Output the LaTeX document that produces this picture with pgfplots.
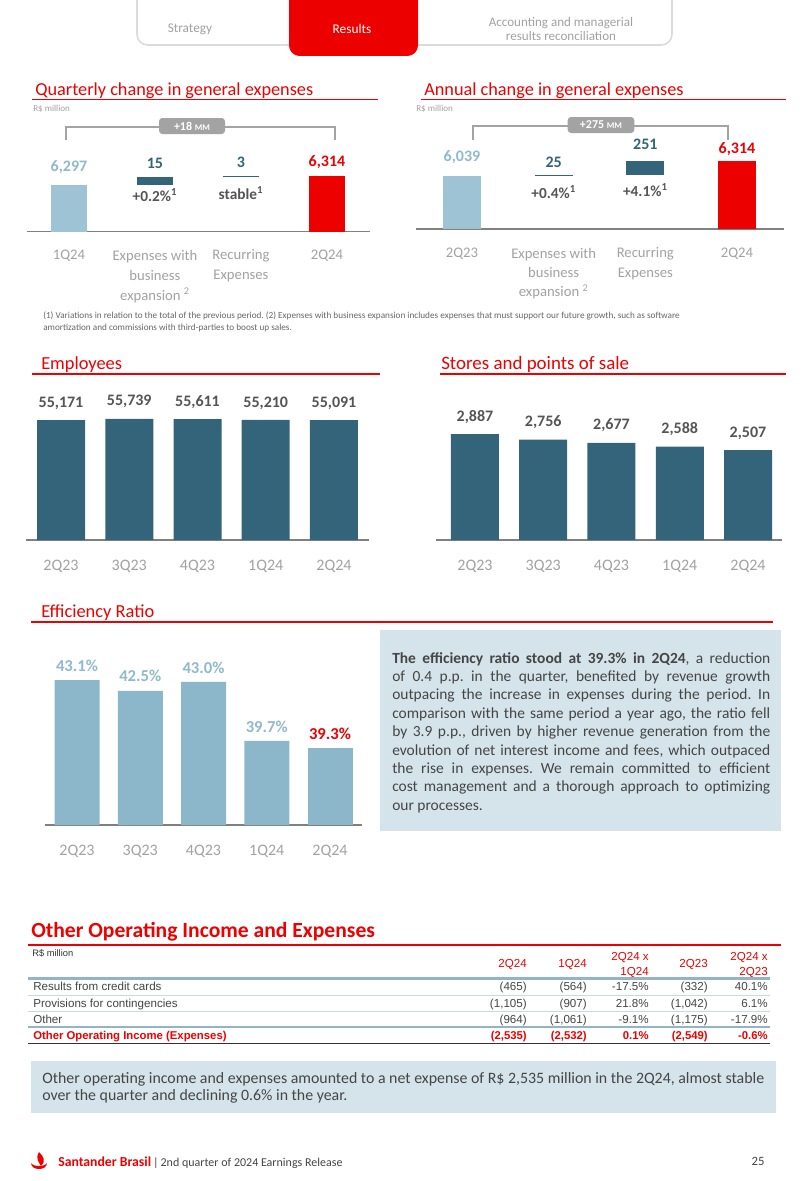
\documentclass[border=0pt]{standalone}
\usepackage{pgfplots}
\pgfplotsset{compat=1.18}
\usepackage{fontspec}
\setmainfont{Carlito}
\newfontfamily\arial{Liberation Sans}
\frenchspacing

\definecolor{sred}{HTML}{EC0000}
\definecolor{lightbar}{HTML}{9DC3D4}
\definecolor{lighttext}{HTML}{8FBACE}
\definecolor{effbar}{HTML}{8CB7CA}
\definecolor{darkbar}{HTML}{336479}
\definecolor{tickgray}{HTML}{A2A2A2}
\definecolor{valgray}{HTML}{555555}
\definecolor{axisgray}{HTML}{808080}
\definecolor{boxfill}{HTML}{D5E4EB}
\definecolor{pill}{HTML}{A3A3A3}
\definecolor{textgray}{HTML}{454545}
\definecolor{tabthick}{HTML}{8FB5C6}
\definecolor{tabthin}{HTML}{C9D9E1}

\pgfkeys{/pgf/number format/assume math mode=true}

\pgfplotsset{
  pagebars/.style={
    scale only axis, ybar, bar shift=0pt,
    axis x line=bottom, axis y line=none,
    axis line style={draw=axisgray, line width=0.8pt, -},
    xtick style={draw=none}, ytick=\empty,
    xticklabel style={font=\fontsize{12}{14}\selectfont, text=tickgray},
    anchor=south west, clip=false, enlargelimits=false,
  },
}

\tikzset{tab/.style={font=\arial\fontsize{8.7}{10}\selectfont, inner sep=0pt}}
\newcommand\trow[8]{%
  \node[tab, text=#2, anchor=base west] at (33,#1) {#3};
  \node[tab, text=#2, anchor=base east] at (527,#1) {#4};
  \node[tab, text=#2, anchor=base east] at (587,#1) {#5};
  \node[tab, text=#2, anchor=base east] at (649,#1) {#6};
  \node[tab, text=#2, anchor=base east] at (708,#1) {#7};
  \node[tab, text=#2, anchor=base east] at (768,#1) {#8};
}

\begin{document}
\begin{tikzpicture}
\begin{scope}[x=0.75pt,y=-0.75pt]
\path[use as bounding box, fill=white] (0,0) rectangle (802,1181);

% tabs
\draw[draw=black!14, line width=1.2pt, rounded corners=8pt] (137,-12) rectangle (672,45);
\fill[sred, rounded corners=8pt] (289,-12) rectangle (418,56);
\node[text=tickgray, font=\fontsize{10}{11}\selectfont] at (190,29) {Strategy};
\node[text=white, font=\fontsize{10}{11}\selectfont] at (352,29) {Results};
\node[text=tickgray, font=\fontsize{9.8}{10.2}\selectfont, align=center] at (561,29) {Accounting and managerial\\results reconciliation};

% section titles
\node[anchor=base west, inner sep=0, text=sred, font=\fontsize{13.7}{15}\selectfont] at (35,95) {Quarterly change in general expenses};
\draw[sred, line width=0.8pt] (32,99.5) -- (378,99.5);
\node[anchor=base west, inner sep=0, text=sred, font=\fontsize{13.7}{15}\selectfont] at (424,95) {Annual change in general expenses};
\draw[sred, line width=0.8pt] (421,99.5) -- (786,99.5);
\node[anchor=base west, inner sep=0, text=tickgray, font=\fontsize{6.8}{7}\selectfont] at (33,112) {R\$ million};
\node[anchor=base west, inner sep=0, text=tickgray, font=\fontsize{6.8}{7}\selectfont] at (416,112) {R\$ million};

% brackets
\draw[pill, line width=0.8pt] (66,140) -- (66,127) -- (335,127) -- (335,140);
\node[fill=pill, rounded corners=2.5pt, minimum width=49.5pt, minimum height=12pt, inner sep=0, text=white, font=\bfseries\fontsize{9}{10}\selectfont] at (192,126) {+18 {\fontsize{6.5}{7}\selectfont MM}};
\draw[pill, line width=0.8pt] (473,140) -- (473,126) -- (728,126) -- (728,140);
\node[fill=pill, rounded corners=2.5pt, minimum width=50pt, minimum height=12pt, inner sep=0, text=white, font=\bfseries\fontsize{9}{10}\selectfont] at (601,125) {+275 {\fontsize{6.5}{7}\selectfont MM}};

% footnote
\node[anchor=base west, inner sep=0, text=black!60, font=\fontsize{6.9}{8.3}\selectfont, align=left] at (43,330) {(1) Variations in relation to the total of the previous period. (2) Expenses with business expansion includes expenses that must support our future growth, such as software\\amortization and commissions with third-parties to boost up sales.};

% employees / stores / efficiency titles
\node[anchor=base west, inner sep=0, text=sred, font=\fontsize{13.8}{15}\selectfont] at (41,369) {Employees};
\draw[sred, line width=0.8pt] (32,374) -- (380,374);
\node[anchor=base west, inner sep=0, text=sred, font=\fontsize{14.2}{15}\selectfont] at (441,369) {Stores and points of sale};
\draw[sred, line width=0.8pt] (440,374) -- (786,374);
\node[anchor=base west, inner sep=0, text=sred, font=\fontsize{13.8}{15}\selectfont] at (41,617) {Efficiency Ratio};
\draw[sred, line width=0.8pt] (31,622) -- (773,622);

% efficiency text box
\fill[boxfill] (380,630) rectangle (781,831);
\node[anchor=north west, inner sep=0, text width=283.5pt, align=justify, text=textgray, font=\fontsize{11.6}{13.8}\selectfont] at (392,652) {\textbf{The efficiency ratio stood at 39.3\% in 2Q24}, a reduction\linebreak of 0.4 p.p. in the quarter, benefited by revenue growth\linebreak outpacing the increase in expenses during the period. In\linebreak comparison with the same period a year ago, the ratio fell\linebreak by 3.9 p.p., driven by higher revenue generation from the\linebreak evolution of net interest income and fees, which outpaced\linebreak the rise in expenses. We remain committed to efficient\linebreak cost management and a thorough approach to optimizing\linebreak our processes.};

% other operating income
\node[anchor=base west, inner sep=0, text=sred, font=\bfseries\fontsize{16.2}{17}\selectfont] at (31,937) {Other Operating Income and Expenses};
\draw[sred, line width=0.8pt] (28,945) -- (781,945);
\node[tab, anchor=base west, text=black!80, font=\arial\fontsize{7}{8}\selectfont] at (32,956) {R\$ million};
\node[tab, anchor=east, text=sred] at (527,965) {2Q24};
\node[tab, anchor=east, text=sred] at (587,965) {1Q24};
\node[tab, anchor=east, text=sred, align=right] at (649,965) {2Q24 x\\[1pt]1Q24};
\node[tab, anchor=east, text=sred] at (708,965) {2Q23};
\node[tab, anchor=east, text=sred, align=right] at (768,965) {2Q24 x\\[1pt]2Q23};
\draw[tabthick, line width=1.6pt] (28,978.5) -- (770,978.5);
\trow{990}{textgray}{Results from credit cards}{(465)}{(564)}{-17.5\%}{(332)}{40.1\%}
\draw[tabthin, line width=0.6pt] (28,995) -- (770,995);
\trow{1007}{textgray}{Provisions for contingencies}{(1,105)}{(907)}{21.8\%}{(1,042)}{6.1\%}
\draw[tabthin, line width=0.6pt] (28,1011) -- (770,1011);
\trow{1023}{textgray}{Other}{(964)}{(1,061)}{-9.1\%}{(1,175)}{-17.9\%}
\draw[tabthick, line width=1.6pt] (28,1027) -- (770,1027);
\begin{scope}[tab/.append style={font=\arial\bfseries\fontsize{8.5}{10}\selectfont}]
\trow{1039}{sred}{Other Operating Income (Expenses)}{(2,535)}{(2,532)}{0.1\%}{(2,549)}{-0.6\%}
\end{scope}
\draw[black!80, line width=0.7pt] (28,1043.5) -- (770,1043.5);

% second text box
\fill[boxfill] (31,1061) rectangle (776,1113);
\node[anchor=north west, inner sep=0, align=left, text=textgray, font=\fontsize{11.9}{12.75}\selectfont] at (42,1072) {Other operating income and expenses amounted to a net expense of R\$ 2,535 million in the 2Q24, almost stable\\over the quarter and declining 0.6\% in the year.};

% footer
\fill[sred] (39,1152) .. controls (44,1157) and (46,1161) .. (41,1166) .. controls (39,1162) and (35,1159) .. (39,1152) -- cycle;
\fill[sred] (31,1163) .. controls (31,1171) and (47,1171) .. (47,1163) .. controls (45,1167) and (33,1167) .. (31,1163) -- cycle;
\node[anchor=base west, inner sep=0, font=\fontsize{9}{10}\selectfont] at (58,1166) {\textcolor{sred}{\fontsize{10.3}{12}\selectfont\textbf{Santander Brasil}}\textcolor{textgray}{\,|\,2nd quarter of 2024 Earnings Release}};
\node[text=textgray, font=\fontsize{9.5}{10}\selectfont] at (758,1161) {25};
\end{scope}

% ---------- Quarterly change ----------
\begin{axis}[pagebars, ybar stacked, clip=true,
  at={(20.25pt,-174pt)}, width=257.25pt, height=82.5pt,
  xmin=-0.488, xmax=3.5, ymin=6203, ymax=6423, bar width=27pt,
  xtick={0,1,2,3},
  xticklabels={1Q24,{Expenses with\\business\\expansion \textsuperscript{2}},{Recurring\\Expenses},2Q24},
  xticklabel style={align=center, yshift=-7.75pt, font=\fontsize{11}{15}\selectfont},
]
\addplot[fill=none, draw=none] coordinates {(0,0) (1,6297) (2,6312) (3,0)};
\addplot[fill=lightbar, draw=none] coordinates {(0,6297) (1,0) (2,0) (3,0)};
\addplot[fill=darkbar, draw=none] coordinates {(0,0) (1,15) (2,0) (3,0)};
\addplot[fill=darkbar, draw=none] coordinates {(0,0) (1,0) (2,3) (3,0)};
\addplot[fill=sred, draw=none] coordinates {(0,0) (1,0) (2,0) (3,6314)};
\node[anchor=south, yshift=5pt, text=lighttext, font=\bfseries\fontsize{12}{14}\selectfont] at (axis cs:0,6297) {6,297};
\node[anchor=south, yshift=3pt, text=darkbar, font=\bfseries\fontsize{12}{14}\selectfont] at (axis cs:1,6312) {15};
\node[anchor=south, yshift=3pt, text=darkbar, font=\bfseries\fontsize{12}{14}\selectfont] at (axis cs:2,6315) {3};
\node[anchor=south, yshift=2.5pt, text=sred, font=\bfseries\fontsize{12}{14}\selectfont] at (axis cs:3,6314) {6,314};
\node[anchor=north, yshift=1pt, text=valgray, font=\bfseries\fontsize{11.5}{13}\selectfont] at (axis cs:1,6297) {+0.2\%\textsuperscript{1}};
\node[anchor=north, yshift=-3.5pt, text=valgray, font=\bfseries\fontsize{11.5}{13}\selectfont] at (axis cs:2,6312) {stable\textsuperscript{1}};
\end{axis}

% ---------- Annual change ----------
\begin{axis}[pagebars, ybar stacked, clip=true,
  at={(312pt,-171.75pt)}, width=276pt, height=82.5pt,
  xmin=-0.502, xmax=3.513, ymin=5089, ymax=7060, bar width=28.5pt,
  xtick={0,1,2,3},
  xticklabels={2Q23,{Expenses with\\business\\expansion \textsuperscript{2}},{Recurring\\Expenses},2Q24},
  xticklabel style={align=center, yshift=-8.5pt, font=\fontsize{11}{14.5}\selectfont},
]
\addplot[fill=none, draw=none] coordinates {(0,0) (1,6039) (2,6064) (3,0)};
\addplot[fill=lightbar, draw=none] coordinates {(0,6039) (1,0) (2,0) (3,0)};
\addplot[fill=darkbar, draw=none] coordinates {(0,0) (1,25) (2,0) (3,0)};
\addplot[fill=darkbar, draw=none] coordinates {(0,0) (1,0) (2,251) (3,0)};
\addplot[fill=sred, draw=none] coordinates {(0,0) (1,0) (2,0) (3,6314)};
\node[anchor=south, yshift=6pt, text=lighttext, font=\bfseries\fontsize{12}{14}\selectfont] at (axis cs:0,6039) {6,039};
\node[anchor=south, yshift=2pt, text=darkbar, font=\bfseries\fontsize{12}{14}\selectfont] at (axis cs:1,6064) {25};
\node[anchor=south, yshift=4.5pt, text=darkbar, font=\bfseries\fontsize{12}{14}\selectfont] at (axis cs:2,6315) {251};
\node[anchor=south, yshift=0pt, text=sred, font=\bfseries\fontsize{12}{14}\selectfont] at (axis cs:3,6314) {6,314};
\node[anchor=north, yshift=-4pt, text=valgray, font=\bfseries\fontsize{11.5}{13}\selectfont] at (axis cs:1,6039) {+0.4\%\textsuperscript{1}};
\node[anchor=north, yshift=-3pt, text=valgray, font=\bfseries\fontsize{11.5}{13}\selectfont] at (axis cs:2,6064) {+4.1\%\textsuperscript{1}};
\end{axis}

% ---------- Employees ----------
\begin{axis}[pagebars,
  at={(19.5pt,-405pt)}, width=257.25pt, height=105pt,
  xmin=-0.513, xmax=4.513, ymin=0, ymax=64368, bar width=36pt,
  xtick={0,1,2,3,4}, xticklabels={2Q23,3Q23,4Q23,1Q24,2Q24},
  xticklabel style={yshift=-9.75pt},
  nodes near coords={\pgfmathprintnumber[fixed,precision=0,1000 sep={,}]{\pgfplotspointmeta}},
  nodes near coords style={font=\bfseries\fontsize{12}{14}\selectfont, text=valgray, yshift=4.5pt},
]
\addplot[fill=darkbar, draw=none] coordinates {(0,55171) (1,55739) (2,55611) (3,55210) (4,55091)};
\end{axis}

% ---------- Stores ----------
\begin{axis}[pagebars,
  at={(327pt,-405pt)}, width=259.5pt, height=105pt,
  xmin=-0.571, xmax=4.498, ymin=370, ymax=3695, bar width=36pt,
  xtick={0,1,2,3,4}, xticklabels={2Q23,3Q23,4Q23,1Q24,2Q24},
  xticklabel style={yshift=-9.75pt},
  nodes near coords={\pgfmathprintnumber[fixed,precision=0,1000 sep={,}]{\pgfplotspointmeta}},
  nodes near coords style={font=\bfseries\fontsize{12}{14}\selectfont, text=valgray, yshift=4.5pt},
]
\addplot[fill=darkbar, draw=none] coordinates {(0,2887) (1,2756) (2,2677) (3,2588) (4,2507)};
\end{axis}

% ---------- Efficiency ratio ----------
\begin{axis}[pagebars,
  at={(33.75pt,-618.75pt)}, width=237.75pt, height=127.5pt,
  xmin=-0.506, xmax=4.506, ymin=35, ymax=44.5, bar width=33.75pt,
  xtick={0,1,2,3,4}, xticklabels={2Q23,3Q23,4Q23,1Q24,2Q24},
  xticklabel style={yshift=-9.5pt},
  nodes near coords={\pgfmathprintnumber[fixed,fixed zerofill,precision=1]{\pgfplotspointmeta}\%},
  nodes near coords style={font=\bfseries\fontsize{12.5}{14}\selectfont, yshift=3pt},
]
\addplot[fill=effbar, draw=none, every node near coord/.append style={text=lighttext}] coordinates {(0,43.1) (1,42.5) (2,43.0) (3,39.7)};
\addplot[fill=effbar, draw=none, every node near coord/.append style={text=sred}] coordinates {(4,39.3)};
\end{axis}
\end{tikzpicture}
\end{document}
